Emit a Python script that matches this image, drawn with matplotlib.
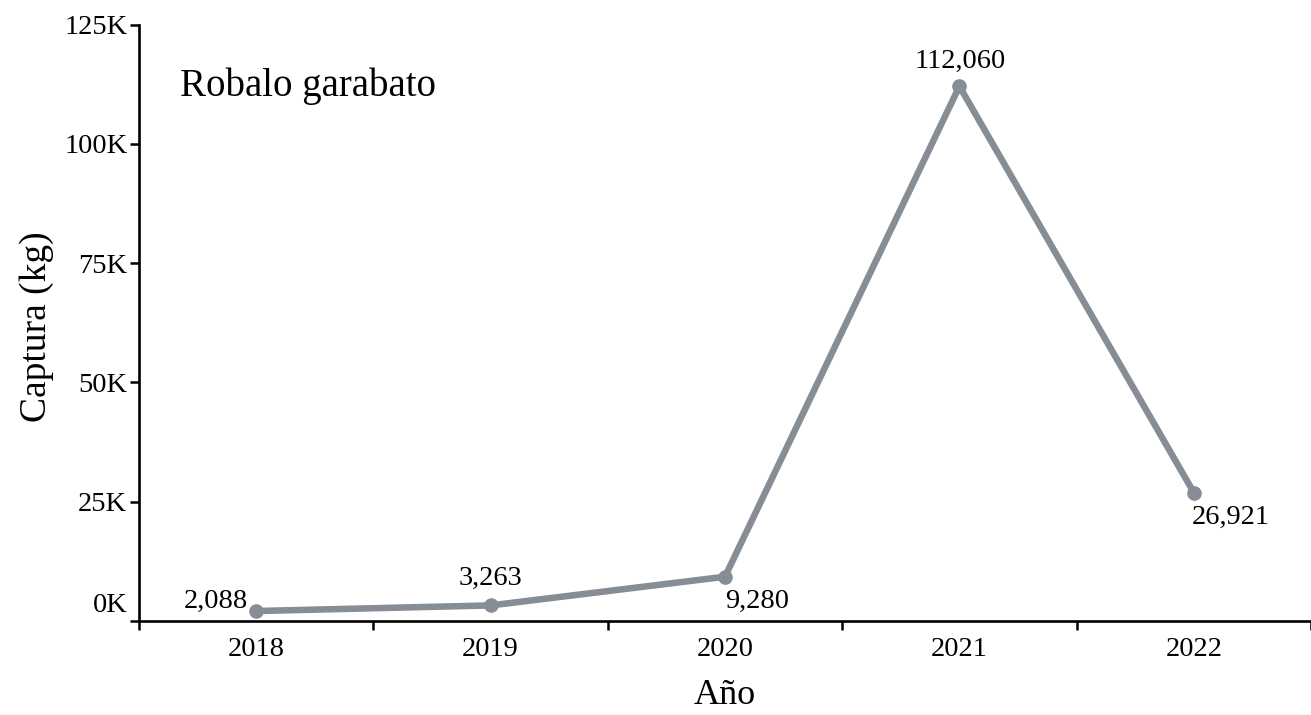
import matplotlib
matplotlib.use("Agg")
import matplotlib.pyplot as plt
import matplotlib.transforms as mtransforms
import numpy as np

plt.rcParams['font.family'] = ['Liberation Serif', 'DejaVu Serif']

years = ['2018', '2019', '2020', '2021', '2022']
captura = [2088, 3263, 9280, 112060, 26921]
yticks = [0, 25000, 50000, 75000, 100000, 125000]
ytick_labels = ['0K', '25K', '50K', '75K', '100K', '125K']
# label placement per point: (dx px, dy px, ha)
label_pos = [(-8, 10, 'right'), (0, 27, 'center'), (0, -25, 'left'),
             (1, 25, 'center'), (-2, -25, 'left')]

color = '#868d95'
fig = plt.figure(figsize=(13.11, 7.15), dpi=100)
ax = fig.add_axes([139/1311, 94/715, 1172/1311, 596.5/715])

x = np.arange(len(years))
ax.plot(x, captura, color=color, lw=4.7, marker='o', ms=9.5, solid_capstyle='round')

for xi, v, (dx, dy, ha) in zip(x, captura, label_pos):
    ax.annotate(f'{v:,}', (xi, v), xytext=(dx / 1.389, dy / 1.389),
                textcoords='offset points', ha=ha, va='center', fontsize=20.5)

ax.set_xlim(-0.5, len(years) - 0.5)
ax.set_ylim(0, 125000)

# ticks on category boundaries, labels on category centers
ax.set_xticks(np.arange(len(years) + 1) - 0.5)
ax.set_xticklabels([])
ax.set_xticks(x, minor=True)
ax.set_xticklabels(years, minor=True, fontsize=20.5)
ax.tick_params(axis='x', which='major', length=6.5, width=1.8, direction='out')
ax.tick_params(axis='x', which='minor', length=0, pad=11.5)

ax.set_yticks(yticks)
ax.set_yticklabels(ytick_labels, fontsize=20.5)
ax.tick_params(axis='y', length=6.5, width=1.8, pad=2)
# lift the 0K label off the x axis like the original
lab0 = ax.get_yticklabels()[0]
lab0.set_transform(lab0.get_transform() + mtransforms.ScaledTranslation(0, 18/100, fig.dpi_scale_trans))

for s in ['top', 'right']:
    ax.spines[s].set_visible(False)
for s in ['left', 'bottom']:
    ax.spines[s].set_linewidth(1.9)

ax.set_xlabel('Año', fontsize=26)
ax.xaxis.set_label_coords(0.5, (621 - 695) / 596.5)
ax.xaxis.label.set_verticalalignment('center')
ax.set_ylabel('Captura (kg)', fontsize=27)
ax.yaxis.set_label_coords((37 - 139) / 1172, (621 - 327) / 596.5)
ax.yaxis.label.set_verticalalignment('center')

ax.text((180 - 139) / 1172, (621 - 86) / 596.5, 'Robalo garabato',
        transform=ax.transAxes, ha='left', va='center', fontsize=28)

fig.savefig('out.png', dpi=100)
